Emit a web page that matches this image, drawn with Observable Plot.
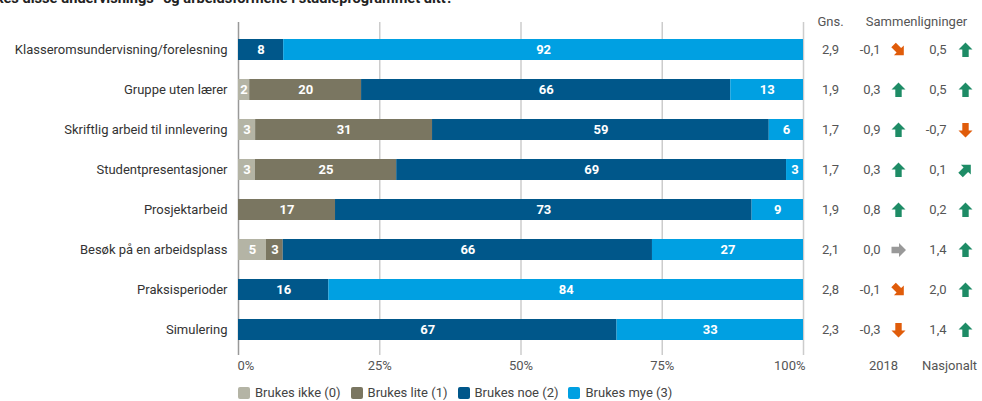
<!DOCTYPE html>
<html>
<head>
<meta charset="utf-8">
<script src="https://cdn.jsdelivr.net/npm/d3@7"></script>
<script src="https://cdn.jsdelivr.net/npm/@observablehq/plot@0.6"></script>
<style>
  html, body { margin: 0; padding: 0; background: #fff; }
  #wrap { position: relative; width: 982px; height: 401px; overflow: hidden; font-family: Roboto, "Open Sans", sans-serif; }
  #title { position: absolute; right: 529px; top: -10px; white-space: nowrap; font-weight: bold; font-size: 14.6px; color: #222; line-height: 17px; }
  #chart { position: absolute; left: 0; top: 0; }
  #legend { position: absolute; left: 238px; top: 385px; display: flex; gap: 10px; font-size: 13px; color: #444; }
  #legend .item { display: flex; align-items: center; }
  #legend .sw { width: 12px; height: 12px; border-radius: 2px; margin-right: 5px; }
</style>
</head>
<body>
<div id="wrap">
  <div id="title">Hvor mye brukes disse undervisnings- og arbeidsformene i studieprogrammet ditt?</div>
  <div id="chart"></div>
  <div id="legend"></div>
</div>
<script>
const categories = [
  "Klasseromsundervisning/forelesning",
  "Gruppe uten lærer",
  "Skriftlig arbeid til innlevering",
  "Studentpresentasjoner",
  "Prosjektarbeid",
  "Besøk på en arbeidsplass",
  "Praksisperioder",
  "Simulering"
];
const seriesNames = ["Brukes ikke (0)", "Brukes lite (1)", "Brukes noe (2)", "Brukes mye (3)"];
const seriesColors = ["#b4b4a5", "#7a7661", "#00578a", "#00a0e2"];
const brukesIkke = [0, 2, 3, 3, 0, 5, 0, 0];
const brukesLite = [0, 20, 31, 25, 17, 3, 0, 0];
const brukesNoe  = [8, 66, 59, 69, 73, 66, 16, 67];
const brukesMye  = [92, 13, 6, 3, 9, 27, 84, 33];
const gns        = [2.9, 1.9, 1.7, 1.7, 1.9, 2.1, 2.8, 2.3];
const diff2018   = [-0.1, 0.3, 0.9, 0.3, 0.8, 0.0, -0.1, -0.3];
const diffNasj   = [0.5, 0.5, -0.7, 0.1, 0.2, 1.4, 2.0, 1.4];
const xTicks = [0, 0.25, 0.5, 0.75, 1];
const xTickLabels = ["0%", "25%", "50%", "75%", "100%"];

const seriesValues = [brukesIkke, brukesLite, brukesNoe, brukesMye];
const rows = [];
categories.forEach((c, i) => {
  seriesNames.forEach((s, j) => rows.push({cat: c, series: s, value: seriesValues[j][i]}));
});
const labelRows = rows.filter(d => d.value > 0);

const fmt = v => v.toFixed(1).replace(".", ",");
const side = categories.map((c, i) => ({cat: c, gns: gns[i], d18: diff2018[i], dn: diffNasj[i]}));
const dir = v => v >= 0.15 ? 0 : v > 0.05 ? 45 : v > -0.05 ? 90 : v > -0.15 ? 135 : 180;
const col = v => v > 0.05 ? "#1e8c66" : v < -0.05 ? "#e05c0a" : "#999999";

const arrow = {
  draw(ctx) {
    ctx.moveTo(0, -7.5);
    ctx.lineTo(7, -0.5);
    ctx.lineTo(3.2, -0.5);
    ctx.lineTo(3.2, 7);
    ctx.lineTo(-3.2, 7);
    ctx.lineTo(-3.2, -0.5);
    ctx.lineTo(-7, -0.5);
    ctx.closePath();
  }
};

const tickData = xTicks.map((t, i) => ({t, label: xTickLabels[i]}));

const chart = Plot.plot({
  width: 982,
  height: 380,
  marginLeft: 238,
  marginRight: 179,
  marginTop: 22,
  marginBottom: 25,
  style: {fontFamily: "Roboto, sans-serif", fontSize: "13px", color: "#333", background: "transparent"},
  x: {domain: [0, 1], axis: null},
  y: {domain: categories, range: [19.5, 358.5], padding: 0.475, label: null, tickSize: 0, tickPadding: 11},
  color: {domain: seriesNames, range: seriesColors},
  marks: [
    Plot.ruleX(xTicks.slice(1), {stroke: "#cccccc", strokeWidth: 1.5}),
    Plot.ruleX([0], {stroke: "#999999", strokeWidth: 1.5}),
    Plot.barX(rows, Plot.stackX({x: "value", y: "cat", z: "series", fill: "series", offset: "normalize", order: seriesNames})),
    Plot.text(labelRows, Plot.stackX({x: "value", y: "cat", z: "series", offset: "normalize", order: seriesNames, text: d => String(d.value), fill: "white", fontWeight: "bold", fontSize: 13})),
    // x tick labels
    Plot.text(tickData.slice(0, 1), {x: "t", text: "label", frameAnchor: "bottom", dy: 14, textAnchor: "start", fill: "#555", dx: -1}),
    Plot.text(tickData.slice(1, -1), {x: "t", text: "label", frameAnchor: "bottom", dy: 14, fill: "#555"}),
    Plot.text(tickData.slice(-1), {x: "t", text: "label", frameAnchor: "bottom", dy: 14, textAnchor: "end", fill: "#555", dx: 2}),
    // side headers
    Plot.text(["Gns."], {x: () => 1, text: d => d, frameAnchor: "top", dy: -6, dx: 27, fill: "#555"}),
    Plot.text(["Sammenligninger"], {x: () => 1, text: d => d, frameAnchor: "top", dy: -6, dx: 113, fill: "#555"}),
    Plot.text(["2018"], {x: () => 1, text: d => d, frameAnchor: "bottom", dy: 14, dx: 80, fill: "#555"}),
    Plot.text(["Nasjonalt"], {x: () => 1, text: d => d, frameAnchor: "bottom", dy: 14, dx: 146, fill: "#555"}),
    // side values
    Plot.text(side, {x: () => 1, y: "cat", text: d => fmt(d.gns), dx: 27, fill: "#555"}),
    Plot.text(side, {x: () => 1, y: "cat", text: d => fmt(d.d18), dx: 77, textAnchor: "end", fill: "#555"}),
    Plot.text(side, {x: () => 1, y: "cat", text: d => fmt(d.dn), dx: 143, textAnchor: "end", fill: "#555"}),
    Plot.dot(side, {x: () => 1, y: "cat", dx: 95, symbol: arrow, rotate: d => dir(d.d18), fill: d => col(d.d18), stroke: "none"}),
    Plot.dot(side, {x: () => 1, y: "cat", dx: 162, symbol: arrow, rotate: d => dir(d.dn), fill: d => col(d.dn), stroke: "none"})
  ]
});
document.getElementById("chart").appendChild(chart);

const legend = document.getElementById("legend");
seriesNames.forEach((s, i) => {
  const item = document.createElement("div");
  item.className = "item";
  item.innerHTML = `<span class="sw" style="background:${seriesColors[i]}"></span><span>${s}</span>`;
  legend.appendChild(item);
});
</script>
</body>
</html>
